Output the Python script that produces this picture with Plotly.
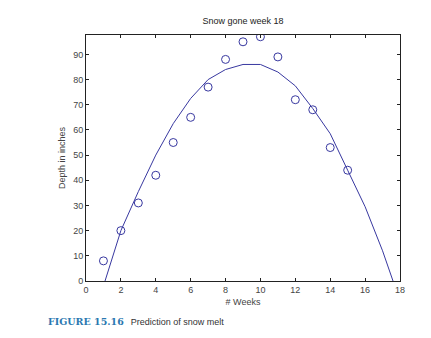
import plotly.graph_objects as go

weeks = [1, 2, 3, 4, 5, 6, 7, 8, 9, 10, 11, 12, 13, 14, 15]
depth = [8, 20, 31, 42, 55, 65, 77, 88, 95, 97, 89, 72, 68, 53, 44]

fit_weeks = [1, 2, 3, 4, 5, 6, 7, 8, 9, 10, 11, 12, 13, 14, 15, 16, 17, 18]
fit_depth = [-2, 20, 35.5, 50, 62.5, 72.5, 80, 84, 86, 86, 83, 77.5, 68.5, 58.5, 44, 29.5, 12, -8]

x_ticks = [0, 2, 4, 6, 8, 10, 12, 14, 16, 18]
y_ticks = [0, 10, 20, 30, 40, 50, 60, 70, 80, 90]

blue = "#3838a0"
txt = "#444444"
font_fam = "Liberation Sans, Arial"

fig = go.Figure()
fig.add_trace(go.Scatter(x=weeks, y=depth, mode="markers",
                         marker=dict(symbol="circle-open", size=8, color=blue, line=dict(width=1, color=blue)),
                         showlegend=False, cliponaxis=True))
fig.add_trace(go.Scatter(x=fit_weeks, y=fit_depth, mode="lines",
                         line=dict(color=blue, width=1), showlegend=False))

axis_common = dict(showgrid=False, zeroline=False, showline=True, linecolor="#222222", linewidth=1,
                   mirror="ticks", ticks="inside", ticklen=3, tickcolor="#222222",
                   tickfont=dict(family=font_fam, size=9, color=txt))

fig.update_xaxes(range=[0, 18], tickvals=x_ticks, ticktext=[str(v) for v in x_ticks],
                 title=dict(text="# Weeks", font=dict(family=font_fam, size=9, color=txt), standoff=4),
                 **axis_common)
fig.update_yaxes(range=[0, 97.7], tickvals=y_ticks, ticktext=[str(v) for v in y_ticks],
                 title=dict(text="Depth in inches", font=dict(family=font_fam, size=9, color=txt), standoff=6),
                 **axis_common)

fig.update_layout(
    width=431, height=338,
    margin=dict(l=86, r=31, t=35, b=57),
    paper_bgcolor="white", plot_bgcolor="white",
    title=dict(text="Snow gone week 18", x=0.5, xref="paper", xanchor="center",
               y=1 - 21 / 338, yanchor="middle",
               font=dict(family=font_fam, size=9, color="#222222")),
    annotations=[dict(
        text="<b><span style='font-family:DejaVu Serif, serif;color:#2a78b0;font-size:9.5px'>FIGURE 15.16</span></b>"
             "&nbsp;&nbsp; <span style='font-family:Liberation Sans Narrow, Liberation Sans, Arial'>Prediction of snow melt</span>",
        xref="paper", yref="paper", x=(46 - 86) / (431 - 86 - 31), y=-(321 - 281) / (338 - 35 - 57),
        xanchor="left", yanchor="middle", showarrow=False,
        font=dict(size=9, color="#333333"))],
)

fig.write_html("out.html")
